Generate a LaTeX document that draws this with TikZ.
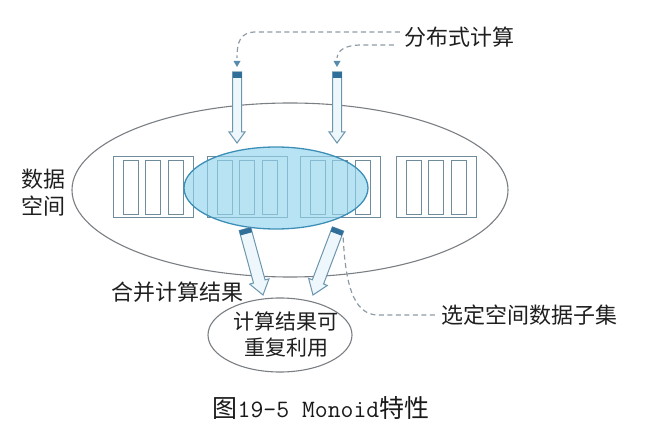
\documentclass[tikz,border=0pt]{standalone}
\usepackage{fontspec}
\newfontfamily\cjk{Noto Sans CJK SC}
\usetikzlibrary{calc,shapes.geometric}
\definecolor{barline}{HTML}{6F8C9C}
\definecolor{ellline}{HTML}{7A7F84}
\definecolor{blueedge}{HTML}{3E8FB8}
\definecolor{bluefill}{HTML}{92D4EE}
\definecolor{arrline}{HTML}{6C95AE}
\definecolor{arrfill}{HTML}{EEF7FB}
\definecolor{darkblue}{HTML}{2F6F9A}
\definecolor{dashgray}{HTML}{8D9BA4}
\tikzset{
  lbl/.style={font=\cjk\fontsize{22}{27}\selectfont, text=black!88, inner sep=0pt, align=center},
  outerell/.style={draw=ellline, line width=1.1pt},
  grp/.style={draw=barline, line width=0.9pt, fill=white},
  bar/.style={draw=barline, line width=0.9pt},
  dashline/.style={draw=dashgray, line width=1.2pt, dash pattern=on 5pt off 3.5pt},
  fat/.style={draw=arrline, line width=1pt, fill=arrfill, line join=miter},
}
\newcommand{\fatarrow}[5]{% tail, tip, half shaft, half head, head length
  \coordinate (fatH) at ($(#2)!#5!(#1)$);
  \draw[fat] ($(#1)!#3!90:(#2)$) -- ($(fatH)!#3!90:(#2)$) -- ($(fatH)!#4!90:(#2)$)
    -- (#2) -- ($(fatH)!#4!-90:(#2)$) -- ($(fatH)!#3!-90:(#2)$) -- ($(#1)!#3!-90:(#2)$) -- cycle;
}
\begin{document}
\begin{tikzpicture}[x=1pt,y=-1pt]
\useasboundingbox (0,0) rectangle (647,435);
% big data space ellipse
\draw[outerell] (290,190) ellipse [x radius=218, y radius=87];
% bar groups
\foreach \gx/\nm in {113/g1,207/g2,300/g3,396/g4}{
  \draw[grp] (\gx,156) rectangle ++(80,61);
  \foreach \o in {10,32,55}{
    \draw[bar] (\gx+\o,160) rectangle ++(15,54);
  }
}
% selected subset ellipse
\node[draw=blueedge, line width=1.3pt, fill=bluefill, fill opacity=0.65,
      ellipse, minimum width=184pt, minimum height=82pt, inner sep=0pt] (sub) at (276,188) {};
% top arrows
\coordinate (t1) at (237,72); \coordinate (h1) at (237,143);
\coordinate (t2) at (337,72); \coordinate (h2) at (337,143);
\fatarrow{t1}{h1}{4.5pt}{8pt}{11pt}
\fatarrow{t2}{h2}{4.5pt}{8pt}{11pt}
\foreach \x in {237,337}{
  \fill[darkblue] (\x-4.5,72) rectangle (\x+4.5,78);
  \fill[darkblue!80] (\x-3.5,61) -- (\x+3.5,61) -- (\x,67) -- cycle;
}
% bottom arrows
\coordinate (a1) at (245,229); \coordinate (b1) at (263,295);
\coordinate (a2) at (338,229); \coordinate (b2) at (313,295);
\fatarrow{a1}{b1}{6pt}{10pt}{14pt}
\fatarrow{a2}{b2}{6pt}{10pt}{14pt}
\fill[darkblue] ($(a1)!6pt!90:(b1)$) -- ($(a1)!6pt!-90:(b1)$) -- ($($(a1)!5pt!(b1)$)!6pt!-90:(b1)$) -- ($($(a1)!5pt!(b1)$)!6pt!90:(b1)$) -- cycle;
\fill[darkblue] ($(a2)!6pt!90:(b2)$) -- ($(a2)!6pt!-90:(b2)$) -- ($($(a2)!5pt!(b2)$)!6pt!-90:(b2)$) -- ($($(a2)!5pt!(b2)$)!6pt!90:(b2)$) -- cycle;
% result ellipse
\node[draw=ellline, line width=1.1pt, ellipse, minimum width=144pt, minimum height=74pt, inner sep=0pt] (res) at (280,335) {};
% labels
\node[lbl] (dist) at (459,37) {分布式计算};
\node[lbl] (space) at (43,193) {数据\\空间};
\node[lbl] (merge) at (177,292) {合并计算结果};
\node[lbl] (sel) at (529,315) {选定空间数据子集};
\node[lbl, font=\cjk\fontsize{21}{26}\selectfont] (reuse) at (286,335) {计算结果可\\重复利用};
\node[inner sep=0pt, font=\fontsize{25}{28}\selectfont, text=black!90] (cap) at (321,408)
  {{\cjk 图}\texttt{19-5 Monoid}{\cjk 特性}};
% dashed callouts
\coordinate (d1) at (237,58); \coordinate (d2) at (337,58); \coordinate (d3) at (343,234);
\draw[dashline] ($(dist.west |- 0,32)+(-4,0)$) -- (256,32) .. controls (240,32) and (237,42) .. (d1);
\draw[dashline] ($(dist.west |- 0,45)+(-10,0)$) -- (362,45) .. controls (345,45) and (338,50) .. (d2);
\draw[dashline] ($(sel.west)+(-6,0)$) -- (378,315) .. controls (352,315) and (345,280) .. (d3);
\end{tikzpicture}
\end{document}
